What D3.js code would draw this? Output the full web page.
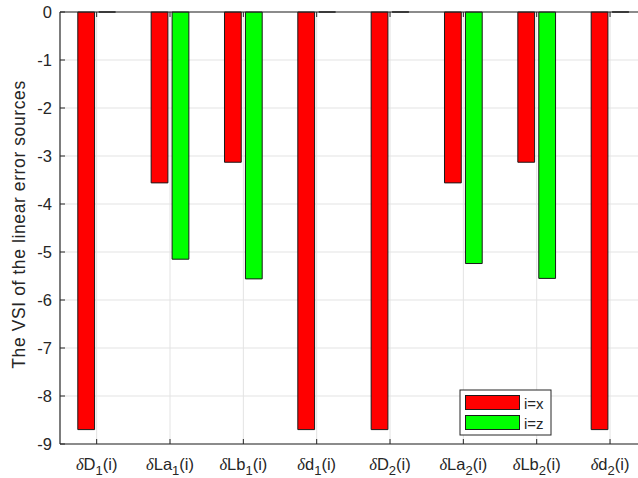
<!DOCTYPE html>
<html>
<head>
<meta charset="utf-8">
<script src="https://cdn.jsdelivr.net/npm/d3@7"></script>
<style>
  html, body { margin: 0; padding: 0; background: #fff; }
  svg { display: block; }
  text { font-family: "Liberation Sans", Arial, Helvetica, sans-serif; fill: #262626; }
</style>
</head>
<body>
<svg id="chart" width="638" height="478"></svg>
<script>
// Error source categories: base symbol and subscript
const categoryNames = ["D", "La", "Lb", "d", "D", "La", "Lb", "d"];
const categorySubs  = ["1", "1", "1", "1", "2", "2", "2", "2"];
const seriesNames = ["i=x", "i=z"];
const seriesColors = ["#ff0000", "#00ff00"];
// VSI values per error source
const valuesX = [-8.7, -3.56, -3.13, -8.7, -8.7, -3.56, -3.13, -8.7];
const valuesZ = [0, -5.15, -5.56, 0, 0, -5.24, -5.55, 0];
const yTicks = [0, -1, -2, -3, -4, -5, -6, -7, -8, -9];

const svg = d3.select("#chart");
const margin = { left: 60, top: 12 };
const plotW = 586.7, plotH = 432;

const x = d3.scaleLinear().domain([0.5, 8.5]).range([margin.left, margin.left + plotW]);
const y = d3.scaleLinear().domain([-9, 0]).range([margin.top + plotH, margin.top]);

const idx = d3.range(1, 9);
const axisColor = "#262626";
const gridColor = "#e3e3e3";

// Grid lines
const grid = svg.append("g");
grid.selectAll(".hg").data(yTicks).join("line")
  .attr("x1", x(0.5)).attr("x2", x(8.5))
  .attr("y1", d => y(d)).attr("y2", d => y(d))
  .attr("stroke", gridColor).attr("stroke-width", 1);
grid.selectAll(".vg").data(idx).join("line")
  .attr("x1", d => x(d)).attr("x2", d => x(d))
  .attr("y1", y(-9)).attr("y2", y(0))
  .attr("stroke", gridColor).attr("stroke-width", 1);

// Grouped bars
const groupWidth = 2 / 3.5;
const barW = groupWidth / 2 * 0.8;
const offsets = [-groupWidth / 4, groupWidth / 4];
const series = [valuesX, valuesZ];

series.forEach((vals, s) => {
  svg.append("g").selectAll("path").data(vals).join("path")
    .attr("d", (v, i) => {
      const x0 = x(i + 1 + offsets[s] - barW / 2);
      const x1 = x(i + 1 + offsets[s] + barW / 2);
      const y0 = y(0), y1 = y(v);
      return `M${x0},${y0}L${x1},${y0}L${x1},${y1}L${x0},${y1}Z`;
    })
    .attr("fill", seriesColors[s])
    .attr("stroke", "#1a1a1a")
    .attr("stroke-width", 1);
});

// Axes box (left, top, bottom)
const axes = svg.append("g");
axes.append("line").attr("x1", x(0.5)).attr("x2", x(0.5)).attr("y1", y(0)).attr("y2", y(-9))
  .attr("stroke", axisColor).attr("stroke-width", 1.2);
axes.append("line").attr("x1", x(0.5)).attr("x2", x(8.5)).attr("y1", y(-9)).attr("y2", y(-9))
  .attr("stroke", axisColor).attr("stroke-width", 1.2);
axes.append("line").attr("x1", x(0.5)).attr("x2", x(8.5)).attr("y1", y(0)).attr("y2", y(0))
  .attr("stroke", axisColor).attr("stroke-width", 1.2);

// Ticks pointing inward
const tl = 5;
axes.selectAll(".yt").data(yTicks).join("line")
  .attr("x1", x(0.5)).attr("x2", x(0.5) + tl)
  .attr("y1", d => y(d)).attr("y2", d => y(d))
  .attr("stroke", axisColor);
axes.selectAll(".xtb").data(idx).join("line")
  .attr("x1", d => x(d)).attr("x2", d => x(d))
  .attr("y1", y(-9)).attr("y2", y(-9) - tl)
  .attr("stroke", axisColor);
axes.selectAll(".xtt").data(idx).join("line")
  .attr("x1", d => x(d)).attr("x2", d => x(d))
  .attr("y1", y(0)).attr("y2", y(0) + tl)
  .attr("stroke", axisColor);

// Y tick labels
svg.append("g").selectAll("text").data(yTicks).join("text")
  .attr("x", x(0.5) - 8).attr("y", d => y(d) + 6)
  .attr("text-anchor", "end").attr("font-size", 16.5)
  .text(d => d === 0 ? "0" : "-" + Math.abs(d));

// X tick labels: δ + name + subscript + (i)
const xl = svg.append("g").selectAll("text").data(idx).join("text")
  .attr("x", d => x(d)).attr("y", 470)
  .attr("text-anchor", "middle").attr("font-size", 16.5);
xl.append("tspan").attr("font-family", "'Liberation Serif', 'Times New Roman', serif")
  .attr("font-style", "italic").text("δ");
xl.append("tspan").text(d => categoryNames[d - 1]);
xl.append("tspan").attr("dy", 5).attr("font-size", 13).text(d => categorySubs[d - 1]);
xl.append("tspan").attr("dy", -5).text("(i)");

// Y axis title
svg.append("text")
  .attr("transform", `translate(25,${224.5}) rotate(-90)`)
  .attr("text-anchor", "middle").attr("font-size", 17.5)
  .attr("letter-spacing", 0.6)
  .text("The VSI of the linear error sources");

// Legend
const lg = svg.append("g").attr("transform", "translate(460,390)");
lg.append("rect").attr("x", 0).attr("y", 0).attr("width", 91).attr("height", 45)
  .attr("fill", "#fff").attr("stroke", axisColor).attr("stroke-width", 1);
seriesNames.forEach((name, s) => {
  lg.append("rect").attr("x", 5.5).attr("y", 5.5 + s * 20).attr("width", 54).attr("height", 14)
    .attr("fill", seriesColors[s]).attr("stroke", "#1a1a1a").attr("stroke-width", 1);
  lg.append("text").attr("x", 64).attr("y", 18.5 + s * 20).attr("font-size", 15).text(name);
});
</script>
</body>
</html>
